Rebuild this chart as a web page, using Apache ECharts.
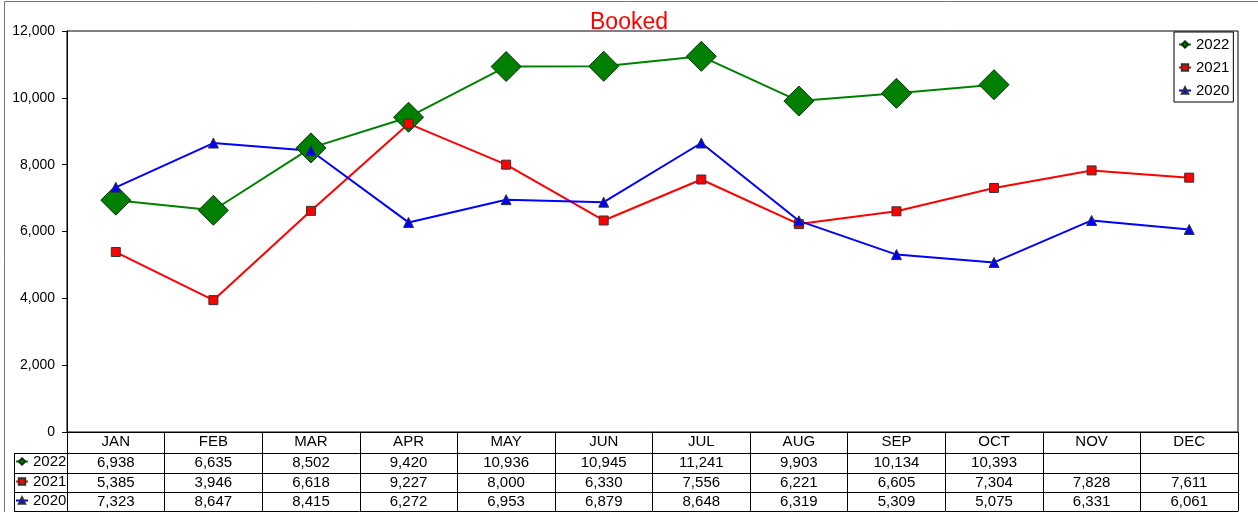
<!DOCTYPE html>
<html>
<head>
    <meta charset="utf-8">
    <title>Booked</title>
    <script src="https://cdn.jsdelivr.net/npm/echarts@6/dist/echarts.min.js"></script>
    <style>
        html, body { margin: 0; padding: 0; background: #fff; }
        #main { width: 1258px; height: 512px; }
    </style>
</head>
<body>
    <div id="main"></div>
    <script type="text/javascript">
        var months = ['JAN', 'FEB', 'MAR', 'APR', 'MAY', 'JUN', 'JUL', 'AUG', 'SEP', 'OCT', 'NOV', 'DEC'];
        var seriesNames = ['2022', '2021', '2020'];
        var booked2022 = [6938, 6635, 8502, 9420, 10936, 10945, 11241, 9903, 10134, 10393, null, null];
        var booked2021 = [5385, 3946, 6618, 9227, 8000, 6330, 7556, 6221, 6605, 7304, 7828, 7611];
        var booked2020 = [7323, 8647, 8415, 6272, 6953, 6879, 8648, 6319, 5309, 5075, 6331, 6061];
        var yTicks = [0, 2000, 4000, 6000, 8000, 10000, 12000];

        var font = 'Arial, "Liberation Sans", sans-serif';
        var allData = [booked2022, booked2021, booked2020];
        var colors = ['#008000', '#ff0000', '#0000ff'];
        var symbols = ['diamond', 'rect', 'triangle'];
        var symbolSizes = [30, 9, 10];

        // layout of plot + data table
        var plotLeft = 67, plotRight = 1238, plotTop = 31, plotBottom = 432;
        var rowLines = [432, 453, 473, 492, 511];

        function fmt(v) {
            return v == null ? '' : v.toLocaleString('en-US');
        }

        var myChart = echarts.init(document.getElementById('main'));

        var xAxes = [{
            type: 'category',
            data: months,
            boundaryGap: true,
            axisLine: { lineStyle: { color: '#000', width: 1 } },
            axisTick: { show: true, interval: 0, length: rowLines[1] - rowLines[0], lineStyle: { color: '#000' } },
            axisLabel: { interval: 0, margin: 2, color: '#000', fontSize: 15, fontFamily: font }
        }];
        // one extra axis per table row: its line is the row border, its labels the values
        for (var r = 0; r < 4; r++) {
            (function (r) {
                var isLast = r === 3;
                xAxes.push({
                    type: 'category',
                    data: months,
                    position: 'bottom',
                    offset: rowLines[r + 1] - rowLines[0],
                    boundaryGap: true,
                    axisLine: { show: true, lineStyle: { color: '#000', width: 1 } },
                    axisTick: {
                        show: !isLast, interval: 0,
                        length: isLast ? 0 : rowLines[r + 2] - rowLines[r + 1],
                        lineStyle: { color: '#000' }
                    },
                    axisLabel: {
                        show: !isLast, interval: 0, margin: 2, color: '#000', fontSize: 15, fontFamily: font,
                        formatter: function (v, i) { return isLast ? '' : fmt(allData[r][i]); }
                    },
                    splitLine: { show: false }
                });
            })(r);
        }

        var series = seriesNames.map(function (name, i) {
            return {
                name: name,
                type: 'line',
                data: allData[i],
                symbol: symbols[i],
                symbolSize: symbolSizes[i],
                showAllSymbol: true,
                connectNulls: false,
                lineStyle: { color: colors[i], width: 2 },
                itemStyle: { color: colors[i], borderColor: i === 0 ? '#0b2e0b' : '#333', borderWidth: 1 },
                emphasis: { disabled: true },
                animation: false
            };
        });

        var legends = [{
            orient: 'vertical',
            left: 1174, top: 32,
            padding: [5, 4, 4, 4],
            itemGap: 8,
            itemWidth: 12, itemHeight: 8,
            borderColor: '#000', borderWidth: 1,
            backgroundColor: '#fff',
            textStyle: { color: '#000', fontSize: 15, fontFamily: font },
            data: seriesNames,
            selectedMode: false
        }];
        seriesNames.forEach(function (name, i) {
            legends.push({
                left: 15,
                top: rowLines[i + 1] + 1,
                padding: 0,
                itemWidth: 12, itemHeight: 8,
                textStyle: { color: '#000', fontSize: 15, fontFamily: font },
                data: [name],
                selectedMode: false
            });
        });

        // table border for the row-label column and outer frame
        var graphics = [{
            type: 'rect',
            shape: { x: 4.5, y: 1.5, width: 1400, height: 600 },
            style: { fill: null, stroke: '#777', lineWidth: 1 },
            silent: true
        }];
        for (var k = 1; k < rowLines.length; k++) {
            graphics.push({
                type: 'line',
                shape: { x1: 14, y1: rowLines[k] + 0.5, x2: plotLeft, y2: rowLines[k] + 0.5 },
                style: { stroke: '#000', lineWidth: 1 },
                silent: true
            });
        }
        graphics.push({
            type: 'line',
            shape: { x1: 14.5, y1: rowLines[1], x2: 14.5, y2: rowLines[4] + 1 },
            style: { stroke: '#000', lineWidth: 1 },
            silent: true
        });
        graphics.push({
            type: 'line',
            shape: { x1: plotLeft + 0.5, y1: rowLines[0], x2: plotLeft + 0.5, y2: rowLines[4] + 1 },
            style: { stroke: '#000', lineWidth: 1 },
            silent: true
        });

        var option = {
            animation: false,
            title: {
                text: 'Booked',
                left: 'center',
                top: 6,
                textStyle: { color: '#ff0000', fontSize: 23, fontWeight: 'normal', fontFamily: font }
            },
            grid: {
                left: plotLeft, right: 1258 - plotRight, top: plotTop, bottom: 512 - plotBottom,
                show: true, borderColor: '#000', borderWidth: 1, backgroundColor: 'transparent'
            },
            legend: legends,
            xAxis: xAxes,
            yAxis: {
                type: 'value',
                min: yTicks[0], max: yTicks[yTicks.length - 1], interval: yTicks[1] - yTicks[0],
                axisLine: { show: true, lineStyle: { color: '#000', width: 1 } },
                axisTick: { show: true, length: 5, lineStyle: { color: '#000' } },
                axisLabel: {
                    margin: 12, color: '#000', fontSize: 14, fontFamily: font,
                    formatter: function (v) { return v.toLocaleString('en-US'); }
                },
                splitLine: { show: false }
            },
            graphic: graphics,
            series: series
        };

        myChart.setOption(option);
    </script>
</body>
</html>
